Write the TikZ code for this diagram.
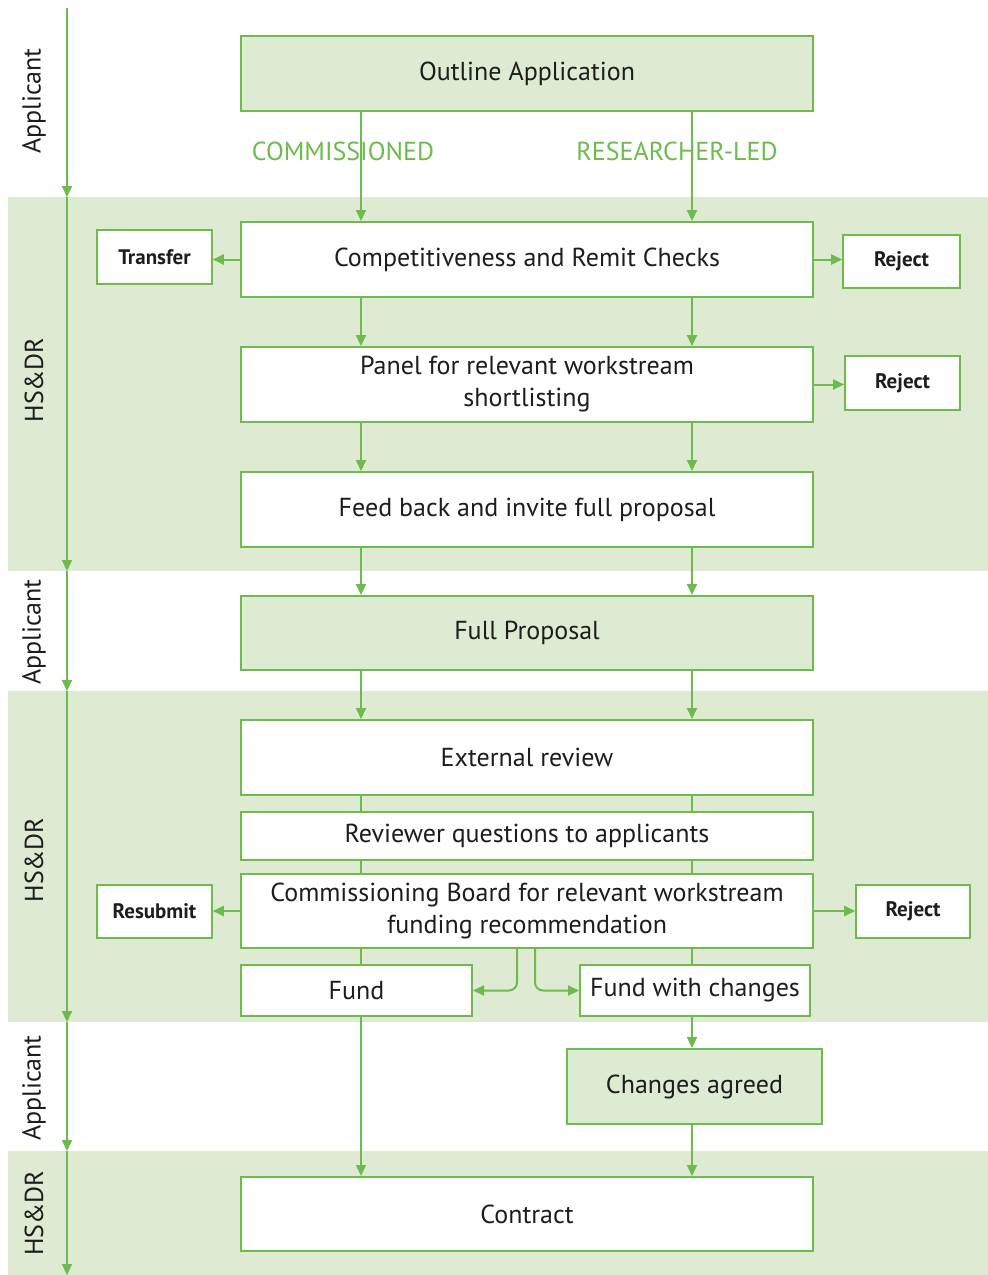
\documentclass[tikz,border=0pt]{standalone}
\usepackage{fontspec}
\setmainfont{PT Sans}
\usetikzlibrary{arrows.meta}
\definecolor{lg}{RGB}{108,187,76}
\definecolor{band}{RGB}{222,234,210}
\definecolor{gfill}{RGB}{222,235,211}
\definecolor{ink}{RGB}{30,28,28}
\tikzset{
  box/.style={draw=lg, line width=2pt, inner sep=0pt, align=center, text=ink, font=\fontsize{26}{32}\selectfont},
  wbox/.style={box, fill=white},
  gbox/.style={box, fill=gfill},
  sbox/.style={box, fill=white, line width=1.6pt, font=\fontsize{21}{24}\selectfont\bfseries},
  arr/.style={draw=lg, line width=2pt, -{Triangle[length=11pt,width=10pt]}},
  ln/.style={draw=lg, line width=2pt},
  lane/.style={rotate=90, text=ink, font=\fontsize{26}{28}\selectfont},
  tag/.style={text=lg, font=\fontsize{26}{28}\selectfont}
}
\begin{document}
\begin{tikzpicture}[x=1pt,y=-1pt]
\useasboundingbox (0,0) rectangle (988,1275);
% bands
\fill[band] (8,197) rectangle (988,571);
\fill[band] (8,691) rectangle (988,1022);
\fill[band] (8,1151) rectangle (988,1275);
% lane axis
\coordinate (a0) at (67,8);
\coordinate (a1) at (67,197);
\coordinate (a2) at (67,571);
\coordinate (a3) at (67,691);
\coordinate (a4) at (67,1022);
\coordinate (a5) at (67,1151);
\coordinate (a6) at (67,1275);
\draw[arr] (a0) -- (a1);
\draw[arr] (a1) -- (a2);
\draw[arr] (a2) -- (a3);
\draw[arr] (a3) -- (a4);
\draw[arr] (a4) -- (a5);
\draw[arr] (a5) -- (a6);
\node[lane] (l1) at (34,101) {Applicant};
\node[lane] (l2) at (34,380) {HS\&DR};
\node[lane] (l3) at (34,632) {Applicant};
\node[lane] (l4) at (34,860) {HS\&DR};
\node[lane] (l5) at (34,1088) {Applicant};
\node[lane] (l6) at (34,1213) {HS\&DR};
% tags
\node[tag] (t1) at (343,151) {COMMISSIONED};
\node[tag] (t2) at (677,151) {RESEARCHER-LED};
% main boxes
\node[gbox, minimum width=572pt, minimum height=75pt] (outline) at (527,73.5) {Outline Application};
\node[wbox, minimum width=572pt, minimum height=75pt] (comp) at (527,259.5) {Competitiveness and Remit Checks};
\node[wbox, minimum width=572pt, minimum height=75pt] (panel) at (527,384.5) {Panel for relevant workstream\\shortlisting};
\node[wbox, minimum width=572pt, minimum height=75pt] (feed) at (527,509.5) {Feed back and invite full proposal};
\node[gbox, minimum width=572pt, minimum height=74pt] (full) at (527,633) {Full Proposal};
\node[wbox, minimum width=572pt, minimum height=75pt] (ext) at (527,757.5) {External review};
\node[wbox, minimum width=572pt, minimum height=48pt] (rev) at (527,836) {Reviewer questions to applicants};
\node[wbox, minimum width=572pt, minimum height=74pt] (board) at (527,911) {Commissioning Board for relevant workstream\\funding recommendation};
\node[wbox, minimum width=231pt, minimum height=51pt] (fund) at (356.5,990.5) {Fund};
\node[wbox, minimum width=230pt, minimum height=51pt] (fwc) at (695,990.5) {Fund with changes};
\node[gbox, minimum width=255pt, minimum height=75pt] (chg) at (694.5,1086.5) {Changes agreed};
\node[wbox, minimum width=572pt, minimum height=74pt] (contract) at (527,1214) {Contract};
% side boxes
\node[sbox, minimum width=115pt, minimum height=54pt] (transfer) at (154.5,257) {Transfer};
\node[sbox, minimum width=117pt, minimum height=53pt] (rej1) at (901.5,261.5) {Reject};
\node[sbox, minimum width=115pt, minimum height=54pt] (rej2) at (902.5,383) {Reject};
\node[sbox, minimum width=115pt, minimum height=53pt] (resub) at (154.5,911.5) {Resubmit};
\node[sbox, minimum width=114pt, minimum height=53pt] (rej3) at (913,911.5) {Reject};
% vertical flow
\foreach \s/\t in {outline/comp, comp/panel, panel/feed, feed/full, full/ext}{
  \draw[arr] ([xshift=-166pt]\s.south) -- ([xshift=-166pt]\t.north);
  \draw[arr] ([xshift=165pt]\s.south) -- ([xshift=165pt]\t.north);
}
\foreach \s/\t in {ext/rev, rev/board}{
  \draw[ln] ([xshift=-166pt]\s.south) -- ([xshift=-166pt]\t.north);
  \draw[ln] ([xshift=165pt]\s.south) -- ([xshift=165pt]\t.north);
}
\draw[ln] ([xshift=-166pt]board.south) -- ([xshift=4.5pt]fund.north);
\draw[ln] ([xshift=165pt]board.south) -- ([xshift=-3pt]fwc.north);
\draw[arr, rounded corners=8pt] ([xshift=-10pt]board.south) |- (fund.east);
\draw[arr, rounded corners=8pt] ([xshift=8pt]board.south) |- (fwc.west);
\draw[arr] ([xshift=4.5pt]fund.south) -- ([xshift=-166pt]contract.north);
\draw[arr] ([xshift=-3pt]fwc.south) -- ([xshift=-2.5pt]chg.north);
\draw[arr] ([xshift=-2.5pt]chg.south) -- ([xshift=165pt]contract.north);
% side arrows
\draw[arr] (comp.west) -- (comp.west -| transfer.east);
\draw[arr] (comp.east) -- (comp.east -| rej1.west);
\draw[arr] (panel.east) -- (panel.east -| rej2.west);
\draw[arr] (board.west) -- (board.west -| resub.east);
\draw[arr] (board.east) -- (board.east -| rej3.west);
\end{tikzpicture}
\end{document}
